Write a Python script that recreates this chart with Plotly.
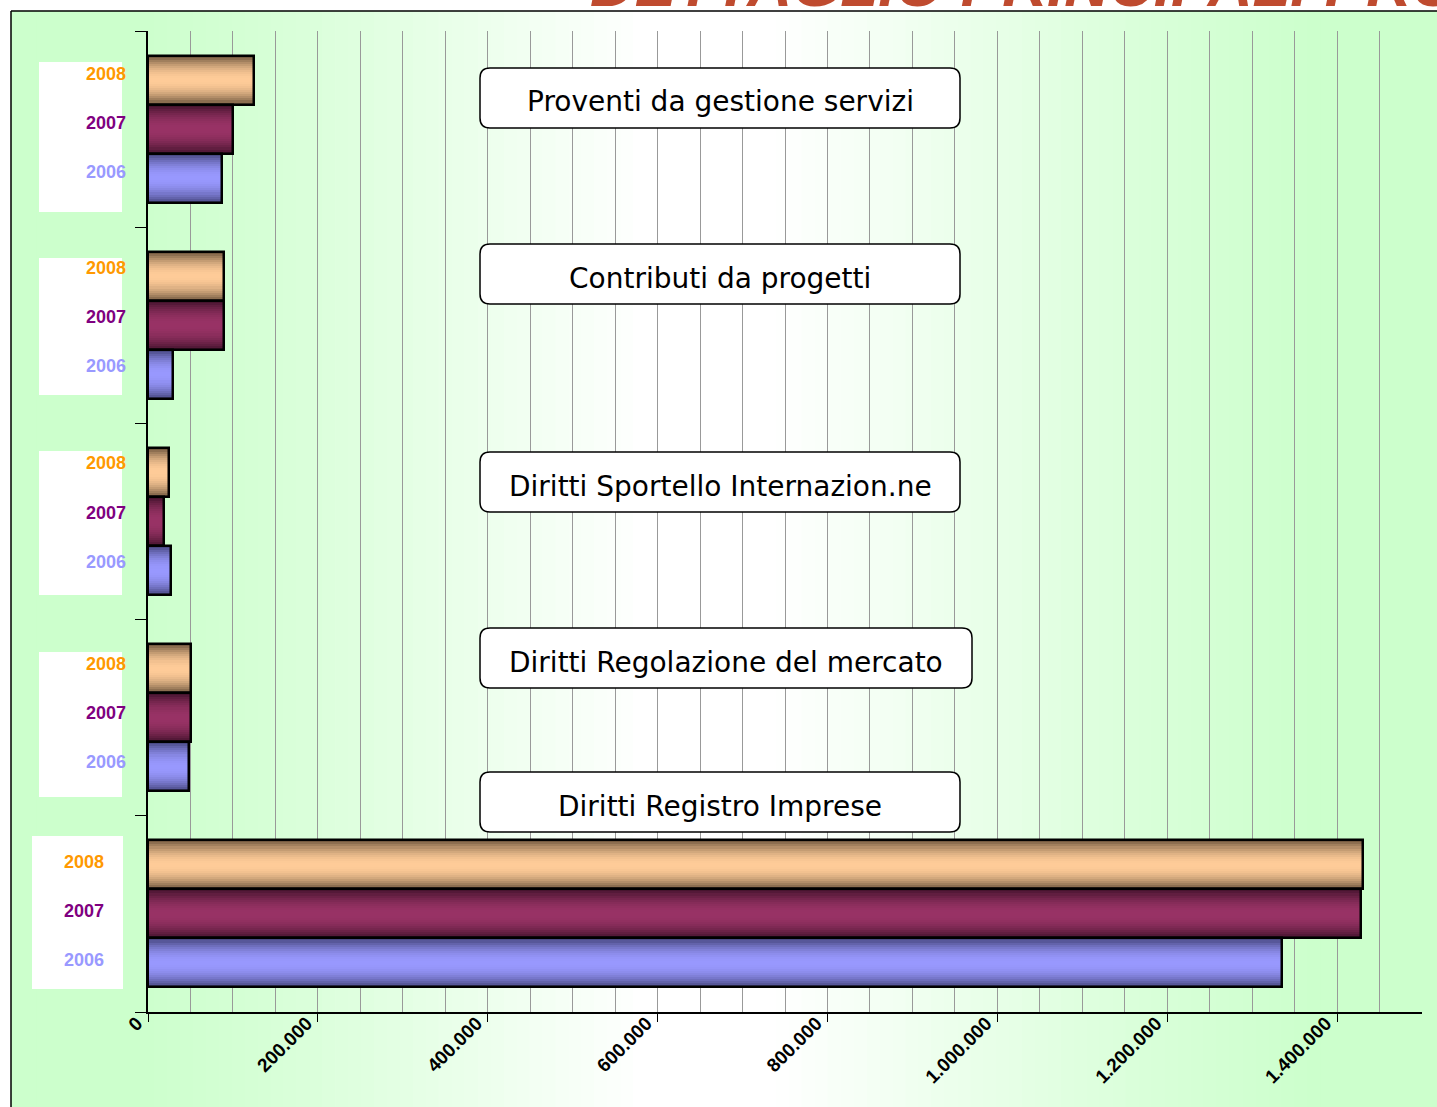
import plotly.graph_objects as go

# ---------------- data (bottom -> top) ----------------
categories = ["Diritti Registro Imprese", "Diritti Regolazione del mercato",
              "Diritti Sportello Internazion.ne", "Contributi da progetti",
              "Proventi da gestione servizi"]
years = ["2008", "2007", "2006"]
v2008 = [1430000, 51000, 25000, 90000, 125000]
v2007 = [1428000, 51000, 18500, 90000, 100500]
v2006 = [1335000, 48500, 27000, 30000, 87000]
tick_vals = [0, 200000, 400000, 600000, 800000, 1000000, 1200000, 1400000]
title_text = "DETTAGLIO PRINCIPALI PROVENTI"

series = [v2008, v2007, v2006]

# ---------------- layout geometry (pixels) ----------------
W, H = 1437, 1107
PL, PR, PT, PB = 148, 1422, 31, 1012


def px_x(px):
    return (px - PL) / (PR - PL)


def px_y(py):
    return (PB - py) / (PB - PT)


year_offsets = [0.25, 0.0, -0.25]
bar_w = 0.25
light = [(255, 204, 153), (153, 51, 102), (153, 153, 255)]
dark = [(105, 82, 58), (64, 18, 42), (68, 68, 122)]
year_colors = ["#FF9900", "#800080", "#9999FF"]

fig = go.Figure()

# ---------------- background gradient ----------------
shapes = []
nstrips = 110
x_start, x_end = 11, W
for i in range(nstrips):
    a = x_start + (x_end - x_start) * i / nstrips
    b = x_start + (x_end - x_start) * (i + 1) / nstrips + 0.8
    c = (a + b) / 2
    if c < 120:
        t = 0.0
    elif c < 640:
        t = (c - 120) / 520
    elif c < 780:
        t = 1.0
    elif c < 1330:
        t = 1 - (c - 780) / 550
    else:
        t = 0.0
    t = t ** 1.2
    col = (int(204 + 51 * t), 255, int(204 + 51 * t))
    shapes.append(dict(type="rect", xref="paper", yref="paper", layer="below",
                       x0=px_x(a), x1=px_x(b), y0=px_y(H), y1=px_y(11),
                       fillcolor="rgb(%d,%d,%d)" % col, line=dict(width=0)))
# frame
shapes.append(dict(type="line", xref="paper", yref="paper", layer="below",
                   x0=px_x(11), x1=px_x(11), y0=px_y(11), y1=px_y(H),
                   line=dict(color="black", width=1.5)))
shapes.append(dict(type="line", xref="paper", yref="paper", layer="below",
                   x0=px_x(11), x1=px_x(W), y0=px_y(11), y1=px_y(11),
                   line=dict(color="black", width=1.5)))

# ---------------- white boxes behind year labels ----------------
year_boxes = [(32, 123, 836, 989), (39, 122, 652, 797), (39, 122, 451, 595),
              (39, 122, 258, 395), (39, 122, 62, 212)]
for (a, b, c, d) in year_boxes:
    shapes.append(dict(type="rect", xref="paper", yref="paper", layer="below",
                       x0=px_x(a), x1=px_x(b), y0=px_y(d), y1=px_y(c),
                       fillcolor="white", line=dict(width=0)))

# ---------------- bars with simulated vertical gradient ----------------
N = 12
for s, vals in enumerate(series):
    ypos = [g + year_offsets[s] for g in range(len(categories))]
    for k in range(N):
        f0 = 1 - k / N
        f1 = 1 - (k + 1) / N
        fm = (f0 + f1) / 2
        m = 1 - fm ** 2.0
        col = tuple(int(dark[s][j] + (light[s][j] - dark[s][j]) * m) for j in range(3))
        fig.add_trace(go.Bar(
            x=vals, y=ypos, orientation="h", width=bar_w * f0,
            marker=dict(color="rgb(%d,%d,%d)" % col, line=dict(width=0)),
            hoverinfo="skip", showlegend=False))
for s, vals in enumerate(series):
    ypos = [g + year_offsets[s] for g in range(len(categories))]
    fig.add_trace(go.Bar(
        x=vals, y=ypos, orientation="h", width=bar_w,
        marker=dict(color="rgba(0,0,0,0)", line=dict(color="black", width=2.5)),
        name=years[s], hoverinfo="x", showlegend=False))

# ---------------- category label boxes ----------------
annotations = []
box_tops = [772, 628, 452, 244, 68]
box_rights = [960, 972, 960, 960, 960]
box_left = 480
box_h = 60
r = 10


def rrect(x0, y0, x1, y1, rad):
    X = lambda v: px_x(v)
    Y = lambda v: px_y(v)
    return ("M %f %f L %f %f Q %f %f %f %f L %f %f Q %f %f %f %f "
            "L %f %f Q %f %f %f %f L %f %f Q %f %f %f %f Z" % (
                X(x0 + rad), Y(y0), X(x1 - rad), Y(y0),
                X(x1), Y(y0), X(x1), Y(y0 + rad),
                X(x1), Y(y1 - rad),
                X(x1), Y(y1), X(x1 - rad), Y(y1),
                X(x0 + rad), Y(y1),
                X(x0), Y(y1), X(x0), Y(y1 - rad),
                X(x0), Y(y0 + rad),
                X(x0), Y(y0), X(x0 + rad), Y(y0)))


for g, cat in enumerate(categories):
    top = box_tops[g]
    right = box_rights[g]
    shapes.append(dict(type="path", xref="paper", yref="paper", layer="above",
                       path=rrect(box_left, top, right, top + box_h, r),
                       fillcolor="white", line=dict(color="black", width=1.5)))
    annotations.append(dict(xref="paper", yref="paper",
                            x=px_x((box_left + right) / 2), y=px_y(top + box_h / 2 + 4),
                            text=cat, showarrow=False, xanchor="center", yanchor="middle",
                            font=dict(family="DejaVu Sans", size=28, color="black")))

# ---------------- year labels ----------------
label_right = [106, 128, 128, 128, 128]
label_shift = [3, 5, 9, 8, 6]
for g in range(len(categories)):
    for s, yr in enumerate(years):
        annotations.append(dict(xref="paper", yref="y",
                                x=px_x(label_right[g]), y=g + year_offsets[s],
                                yshift=label_shift[g],
                                text=yr, showarrow=False, xanchor="right", yanchor="middle",
                                font=dict(family="Liberation Sans, Arial", size=18,
                                          color=year_colors[s], weight="bold")))

# ---------------- cut-off title ----------------
annotations.append(dict(xref="paper", yref="paper", x=px_x(588), y=px_y(21),
                        text=title_text, showarrow=False, xanchor="left", yanchor="bottom",
                        font=dict(family="Liberation Sans, Arial", size=62,
                                  color="#BF4B2F", weight="bold", style="italic")))

fig.update_layout(
    width=W, height=H,
    margin=dict(l=PL, r=W - PR, t=PT, b=H - PB, pad=0),
    paper_bgcolor="white", plot_bgcolor="rgba(0,0,0,0)",
    barmode="overlay", bargap=0,
    separators=",.",
    shapes=shapes, annotations=annotations,
    showlegend=False,
)
fig.update_xaxes(
    range=[0, 1500000], tickvals=tick_vals, tickformat=",.0f",
    tickangle=-45, ticks="outside", ticklen=8, tickcolor="black", tickwidth=1,
    ticklabelshift=-11, ticklabelstandoff=-17,
    showline=True, linecolor="black", linewidth=1.5,
    showgrid=True, gridcolor="#999999", gridwidth=1,
    minor=dict(dtick=50000, tick0=0, showgrid=True, gridcolor="#999999", gridwidth=1, ticks=""),
    zeroline=False,
    tickfont=dict(family="Liberation Sans, Arial", size=19, color="black", weight="bold"),
)
fig.update_yaxes(
    range=[-0.5, 4.5], tickvals=[-0.5, 0.5, 1.5, 2.5, 3.5, 4.5],
    showticklabels=False, ticks="outside", ticklen=11, tickcolor="black",
    showline=True, linecolor="black", linewidth=1.5,
    showgrid=False, zeroline=False,
)

fig.write_html("out.html", config={"displayModeBar": False},
               post_script="document.body.style.margin='0';document.body.style.overflow='hidden';")
